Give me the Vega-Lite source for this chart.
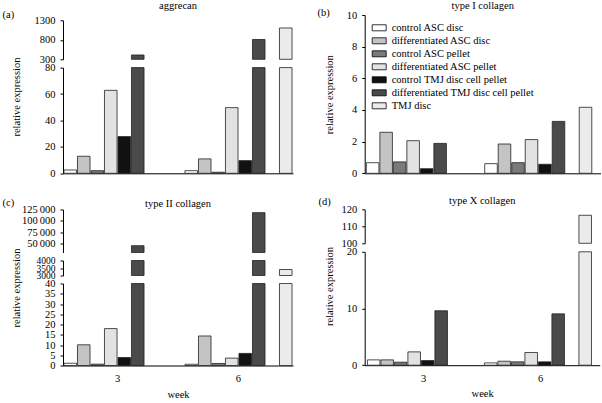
{
  "$schema": "https://vega.github.io/schema/vega-lite/v6.json",
  "padding": {"left": 2, "top": 0, "right": 0, "bottom": 0},
  "config": {
    "font": "Liberation Serif",
    "view": {"stroke": null},
    "axis": {"labelFont": "Liberation Serif", "labelFontSize": 10.5, "labelColor": "black", "titleFont": "Liberation Serif", "titleFontSize": 10.5, "titleFontWeight": "normal", "titleColor": "black", "domainColor": "black", "tickColor": "black", "grid": false, "labelOverlap": false, "labelFlush": false},
    "axisY": {"tickSize": 3, "labelPadding": 5, "format": "d"},
    "axisX": {"tickSize": 0, "ticks": false, "labelAngle": 0, "labelPadding": 8, "titlePadding": 5},
    "title": {"font": "Liberation Serif", "fontSize": 10.5, "fontWeight": "normal", "color": "black", "frame": "group", "anchor": "middle"},
    "bar": {"clip": true, "stroke": "#222", "strokeWidth": 0.8}
  },
  "datasets": {
    "d": [
      {"gene": "aggrecan", "week": "3", "series": "control ASC disc", "value": 2.5},
      {"gene": "aggrecan", "week": "3", "series": "differentiated ASC disc", "value": 12.9},
      {"gene": "aggrecan", "week": "3", "series": "control ASC pellet", "value": 2.0},
      {"gene": "aggrecan", "week": "3", "series": "differentiated ASC pellet", "value": 62.8},
      {"gene": "aggrecan", "week": "3", "series": "control TMJ disc cell pellet", "value": 27.8},
      {"gene": "aggrecan", "week": "3", "series": "differentiated TMJ disc cell pellet", "value": 411},
      {"gene": "aggrecan", "week": "6", "series": "control ASC disc", "value": 2.0},
      {"gene": "aggrecan", "week": "6", "series": "differentiated ASC disc", "value": 10.9},
      {"gene": "aggrecan", "week": "6", "series": "control ASC pellet", "value": 0.8},
      {"gene": "aggrecan", "week": "6", "series": "differentiated ASC pellet", "value": 49.7},
      {"gene": "aggrecan", "week": "6", "series": "control TMJ disc cell pellet", "value": 9.6},
      {"gene": "aggrecan", "week": "6", "series": "differentiated TMJ disc cell pellet", "value": 808},
      {"gene": "aggrecan", "week": "6", "series": "TMJ disc", "value": 1103},
      {"gene": "type I collagen", "week": "3", "series": "control ASC disc", "value": 0.67},
      {"gene": "type I collagen", "week": "3", "series": "differentiated ASC disc", "value": 2.59},
      {"gene": "type I collagen", "week": "3", "series": "control ASC pellet", "value": 0.72},
      {"gene": "type I collagen", "week": "3", "series": "differentiated ASC pellet", "value": 2.06},
      {"gene": "type I collagen", "week": "3", "series": "control TMJ disc cell pellet", "value": 0.29},
      {"gene": "type I collagen", "week": "3", "series": "differentiated TMJ disc cell pellet", "value": 1.89},
      {"gene": "type I collagen", "week": "6", "series": "control ASC disc", "value": 0.61},
      {"gene": "type I collagen", "week": "6", "series": "differentiated ASC disc", "value": 1.85},
      {"gene": "type I collagen", "week": "6", "series": "control ASC pellet", "value": 0.67},
      {"gene": "type I collagen", "week": "6", "series": "differentiated ASC pellet", "value": 2.13},
      {"gene": "type I collagen", "week": "6", "series": "control TMJ disc cell pellet", "value": 0.57},
      {"gene": "type I collagen", "week": "6", "series": "differentiated TMJ disc cell pellet", "value": 3.28},
      {"gene": "type I collagen", "week": "6", "series": "TMJ disc", "value": 4.17},
      {"gene": "type II collagen", "week": "3", "series": "control ASC disc", "value": 1.1},
      {"gene": "type II collagen", "week": "3", "series": "differentiated ASC disc", "value": 10.1},
      {"gene": "type II collagen", "week": "3", "series": "control ASC pellet", "value": 0.65},
      {"gene": "type II collagen", "week": "3", "series": "differentiated ASC pellet", "value": 18.0},
      {"gene": "type II collagen", "week": "3", "series": "control TMJ disc cell pellet", "value": 3.9},
      {"gene": "type II collagen", "week": "3", "series": "differentiated TMJ disc cell pellet", "value": 45000},
      {"gene": "type II collagen", "week": "6", "series": "control ASC disc", "value": 0.6},
      {"gene": "type II collagen", "week": "6", "series": "differentiated ASC disc", "value": 14.4},
      {"gene": "type II collagen", "week": "6", "series": "control ASC pellet", "value": 1.0},
      {"gene": "type II collagen", "week": "6", "series": "differentiated ASC pellet", "value": 3.6},
      {"gene": "type II collagen", "week": "6", "series": "control TMJ disc cell pellet", "value": 5.9},
      {"gene": "type II collagen", "week": "6", "series": "differentiated TMJ disc cell pellet", "value": 118000},
      {"gene": "type II collagen", "week": "6", "series": "TMJ disc", "value": 3400},
      {"gene": "type X collagen", "week": "3", "series": "control ASC disc", "value": 0.94},
      {"gene": "type X collagen", "week": "3", "series": "differentiated ASC disc", "value": 0.94},
      {"gene": "type X collagen", "week": "3", "series": "control ASC pellet", "value": 0.53},
      {"gene": "type X collagen", "week": "3", "series": "differentiated ASC pellet", "value": 2.35},
      {"gene": "type X collagen", "week": "3", "series": "control TMJ disc cell pellet", "value": 0.82},
      {"gene": "type X collagen", "week": "3", "series": "differentiated TMJ disc cell pellet", "value": 9.6},
      {"gene": "type X collagen", "week": "6", "series": "control ASC disc", "value": 0.41},
      {"gene": "type X collagen", "week": "6", "series": "differentiated ASC disc", "value": 0.7},
      {"gene": "type X collagen", "week": "6", "series": "control ASC pellet", "value": 0.59},
      {"gene": "type X collagen", "week": "6", "series": "differentiated ASC pellet", "value": 2.24},
      {"gene": "type X collagen", "week": "6", "series": "control TMJ disc cell pellet", "value": 0.59},
      {"gene": "type X collagen", "week": "6", "series": "differentiated TMJ disc cell pellet", "value": 9.06},
      {"gene": "type X collagen", "week": "6", "series": "TMJ disc", "value": 116.5}
    ]
  },
  "data": {"name": "d"},
  "spacing": 23.7,
  "align": "none",
  "hconcat": [
    {
      "spacing": 17.5,
      "align": "none",
      "vconcat": [
        {
          "spacing": 8.3,
          "bounds": "flush",
          "vconcat": [
            {
              "width": 230, "height": 1,
              "title": {"text": "aggrecan", "offset": 0},
              "transform": [{"filter": "datum.gene == 'none'"}],
              "mark": "bar",
              "encoding": {
                "x": {"field": "week", "type": "nominal", "axis": null},
                "y": {"field": "value", "type": "quantitative", "axis": null}
              }
            },
            {
              "width": 230, "height": 39,
              "transform": [{"filter": "datum.gene == 'aggrecan' && datum.value > 300"}],
              "mark": "bar",
              "encoding": {
                "x": {"field": "week", "type": "nominal", "scale": {"domain": ["3", "6"], "paddingInner": 0.115, "paddingOuter": 0.008}, "axis": null},
                "xOffset": {"field": "series", "type": "nominal", "scale": {"domain": ["control ASC disc", "differentiated ASC disc", "control ASC pellet", "differentiated ASC pellet", "control TMJ disc cell pellet", "differentiated TMJ disc cell pellet", "_", "TMJ disc"], "paddingInner": 0.07, "paddingOuter": 0}},
                "y": {"field": "value", "type": "quantitative", "scale": {"domain": [300, 1300], "zero": false, "nice": false, "clamp": true}, "axis": {"values": [300, 800, 1300], "title": "(a)", "titleAngle": 0, "titleAlign": "left", "titleBaseline": "middle", "titleX": -61, "titleY": -6}},
                "color": {"field": "series", "type": "nominal", "scale": {"domain": ["control ASC disc", "differentiated ASC disc", "control ASC pellet", "differentiated ASC pellet", "control TMJ disc cell pellet", "differentiated TMJ disc cell pellet", "TMJ disc"], "range": ["#ffffff", "#c4c4c4", "#7a7a7a", "#e2e2e2", "#111111", "#4a4a4a", "#ebebeb"]}, "legend": {"orient": "none", "legendX": 308.7, "legendY": 9.3, "title": null, "symbolType": "M-1,-0.43H1V0.43H-1Z", "symbolSize": 196, "symbolStrokeColor": "black", "symbolStrokeWidth": 0.8, "labelFontSize": 10.5, "labelFont": "Liberation Serif", "labelColor": "black", "labelLimit": 300, "labelOffset": 5, "rowPadding": -1, "padding": 0}}
              }
            },
            {
              "width": 230, "height": 105.7,
              "transform": [{"filter": "datum.gene == 'aggrecan'"}],
              "mark": "bar",
              "encoding": {
                "x": {"field": "week", "type": "nominal", "scale": {"domain": ["3", "6"], "paddingInner": 0.115, "paddingOuter": 0.008}, "axis": {"title": null, "labels": false}},
                "xOffset": {"field": "series", "type": "nominal", "scale": {"domain": ["control ASC disc", "differentiated ASC disc", "control ASC pellet", "differentiated ASC pellet", "control TMJ disc cell pellet", "differentiated TMJ disc cell pellet", "_", "TMJ disc"], "paddingInner": 0.07, "paddingOuter": 0}},
                "y": {"field": "value", "type": "quantitative", "scale": {"domain": [0, 80], "nice": false, "clamp": true}, "axis": {"values": [0, 20, 40, 60, 80], "title": "relative expression", "titleX": -42, "titleY": 29, "titleBaseline": "bottom"}},
                "color": {"field": "series", "type": "nominal", "scale": {"domain": ["control ASC disc", "differentiated ASC disc", "control ASC pellet", "differentiated ASC pellet", "control TMJ disc cell pellet", "differentiated TMJ disc cell pellet", "TMJ disc"], "range": ["#ffffff", "#c4c4c4", "#7a7a7a", "#e2e2e2", "#111111", "#4a4a4a", "#ebebeb"]}, "legend": {"orient": "none", "legendX": 308.7, "legendY": 9.3, "title": null, "symbolType": "M-1,-0.43H1V0.43H-1Z", "symbolSize": 196, "symbolStrokeColor": "black", "symbolStrokeWidth": 0.8, "labelFontSize": 10.5, "labelFont": "Liberation Serif", "labelColor": "black", "labelLimit": 300, "labelOffset": 5, "rowPadding": -1, "padding": 0}}
              }
            }
          ]
        },
        {
          "spacing": 8,
          "bounds": "flush",
          "vconcat": [
            {
              "width": 230, "height": 43,
              "title": {"text": "type II collagen", "offset": -12.3},
              "transform": [{"filter": "datum.gene == 'type II collagen' && datum.value > 30000"}],
              "mark": "bar",
              "encoding": {
                "x": {"field": "week", "type": "nominal", "scale": {"domain": ["3", "6"], "paddingInner": 0.115, "paddingOuter": 0.008}, "axis": null},
                "xOffset": {"field": "series", "type": "nominal", "scale": {"domain": ["control ASC disc", "differentiated ASC disc", "control ASC pellet", "differentiated ASC pellet", "control TMJ disc cell pellet", "differentiated TMJ disc cell pellet", "_", "TMJ disc"], "paddingInner": 0.07, "paddingOuter": 0}},
                "y": {"field": "value", "type": "quantitative", "scale": {"domain": [30000, 125000], "zero": false, "nice": false, "clamp": true}, "axis": {"values": [50000, 75000, 100000, 125000], "labelExpr": "replace(format(datum.value, ','), ',', '\u2009')", "title": "(c)", "titleAngle": 0, "titleAlign": "left", "titleBaseline": "middle", "titleX": -61, "titleY": -7.5}},
                "color": {"field": "series", "type": "nominal", "scale": {"domain": ["control ASC disc", "differentiated ASC disc", "control ASC pellet", "differentiated ASC pellet", "control TMJ disc cell pellet", "differentiated TMJ disc cell pellet", "TMJ disc"], "range": ["#ffffff", "#c4c4c4", "#7a7a7a", "#e2e2e2", "#111111", "#4a4a4a", "#ebebeb"]}, "legend": {"orient": "none", "legendX": 308.7, "legendY": 9.3, "title": null, "symbolType": "M-1,-0.43H1V0.43H-1Z", "symbolSize": 196, "symbolStrokeColor": "black", "symbolStrokeWidth": 0.8, "labelFontSize": 10.5, "labelFont": "Liberation Serif", "labelColor": "black", "labelLimit": 300, "labelOffset": 5, "rowPadding": -1, "padding": 0}}
              }
            },
            {
              "width": 230, "height": 15,
              "transform": [{"filter": "datum.gene == 'type II collagen' && datum.value > 3000"}],
              "mark": "bar",
              "encoding": {
                "x": {"field": "week", "type": "nominal", "scale": {"domain": ["3", "6"], "paddingInner": 0.115, "paddingOuter": 0.008}, "axis": null},
                "xOffset": {"field": "series", "type": "nominal", "scale": {"domain": ["control ASC disc", "differentiated ASC disc", "control ASC pellet", "differentiated ASC pellet", "control TMJ disc cell pellet", "differentiated TMJ disc cell pellet", "_", "TMJ disc"], "paddingInner": 0.07, "paddingOuter": 0}},
                "y": {"field": "value", "type": "quantitative", "scale": {"domain": [3000, 4000], "zero": false, "nice": false, "clamp": true}, "axis": {"values": [3000, 3500, 4000], "title": null, "labelFontSize": 9.5}},
                "color": {"field": "series", "type": "nominal", "scale": {"domain": ["control ASC disc", "differentiated ASC disc", "control ASC pellet", "differentiated ASC pellet", "control TMJ disc cell pellet", "differentiated TMJ disc cell pellet", "TMJ disc"], "range": ["#ffffff", "#c4c4c4", "#7a7a7a", "#e2e2e2", "#111111", "#4a4a4a", "#ebebeb"]}, "legend": {"orient": "none", "legendX": 308.7, "legendY": 9.3, "title": null, "symbolType": "M-1,-0.43H1V0.43H-1Z", "symbolSize": 196, "symbolStrokeColor": "black", "symbolStrokeWidth": 0.8, "labelFontSize": 10.5, "labelFont": "Liberation Serif", "labelColor": "black", "labelLimit": 300, "labelOffset": 5, "rowPadding": -1, "padding": 0}}
              }
            },
            {
              "width": 230, "height": 82,
              "transform": [{"filter": "datum.gene == 'type II collagen'"}],
              "mark": "bar",
              "encoding": {
                "x": {"field": "week", "type": "nominal", "scale": {"domain": ["3", "6"], "paddingInner": 0.115, "paddingOuter": 0.008}, "axis": {"title": "week"}},
                "xOffset": {"field": "series", "type": "nominal", "scale": {"domain": ["control ASC disc", "differentiated ASC disc", "control ASC pellet", "differentiated ASC pellet", "control TMJ disc cell pellet", "differentiated TMJ disc cell pellet", "_", "TMJ disc"], "paddingInner": 0.07, "paddingOuter": 0}},
                "y": {"field": "value", "type": "quantitative", "scale": {"domain": [0, 40], "nice": false, "clamp": true}, "axis": {"values": [0, 5, 10, 15, 20, 25, 30, 35, 40], "title": "relative expression", "titleX": -42, "titleY": 4, "titleBaseline": "bottom"}},
                "color": {"field": "series", "type": "nominal", "scale": {"domain": ["control ASC disc", "differentiated ASC disc", "control ASC pellet", "differentiated ASC pellet", "control TMJ disc cell pellet", "differentiated TMJ disc cell pellet", "TMJ disc"], "range": ["#ffffff", "#c4c4c4", "#7a7a7a", "#e2e2e2", "#111111", "#4a4a4a", "#ebebeb"]}, "legend": {"orient": "none", "legendX": 308.7, "legendY": 9.3, "title": null, "symbolType": "M-1,-0.43H1V0.43H-1Z", "symbolSize": 196, "symbolStrokeColor": "black", "symbolStrokeWidth": 0.8, "labelFontSize": 10.5, "labelFont": "Liberation Serif", "labelColor": "black", "labelLimit": 300, "labelOffset": 5, "rowPadding": -1, "padding": 0}}
              }
            }
          ]
        }
      ]
    },
    {
      "spacing": 16.3,
      "align": "none",
      "vconcat": [
        {
          "spacing": 3,
          "bounds": "flush",
          "vconcat": [
            {
              "width": 236, "height": 1,
              "title": {"text": "type I collagen", "offset": 0},
              "transform": [{"filter": "datum.gene == 'none'"}],
              "mark": "bar",
              "encoding": {
                "x": {"field": "week", "type": "nominal", "axis": null},
                "y": {"field": "value", "type": "quantitative", "axis": null}
              }
            },
            {
              "width": 236, "height": 158.3,
              "transform": [{"filter": "datum.gene == 'type I collagen'"}],
              "encoding": {
                "x": {"field": "week", "type": "nominal", "scale": {"domain": ["3", "6"], "paddingInner": 0.034, "paddingOuter": 0.014}, "axis": {"title": null, "labels": false}},
                "xOffset": {"field": "series", "type": "nominal", "scale": {"domain": ["control ASC disc", "differentiated ASC disc", "control ASC pellet", "differentiated ASC pellet", "control TMJ disc cell pellet", "differentiated TMJ disc cell pellet", "_", "TMJ disc"], "paddingInner": 0.07, "paddingOuter": 0}},
                "color": {"field": "series", "type": "nominal", "scale": {"domain": ["control ASC disc", "differentiated ASC disc", "control ASC pellet", "differentiated ASC pellet", "control TMJ disc cell pellet", "differentiated TMJ disc cell pellet", "TMJ disc"], "range": ["#ffffff", "#c4c4c4", "#7a7a7a", "#e2e2e2", "#111111", "#4a4a4a", "#ebebeb"]}, "legend": {"orient": "none", "legendX": 308.7, "legendY": 9.3, "title": null, "symbolType": "M-1,-0.43H1V0.43H-1Z", "symbolSize": 196, "symbolStrokeColor": "black", "symbolStrokeWidth": 0.8, "labelFontSize": 10.5, "labelFont": "Liberation Serif", "labelColor": "black", "labelLimit": 300, "labelOffset": 5, "rowPadding": -1, "padding": 0}}
              },
              "layer": [
                {
                  "mark": "bar",
                  "encoding": {
                    "y": {"field": "value", "type": "quantitative", "scale": {"domain": [0, 10], "nice": false}, "axis": {"values": [0, 2, 4, 6, 8, 10], "title": "relative expression", "titleX": -30, "titleBaseline": "bottom"}}
                  }
                },
                {
                  "mark": {"type": "bar", "opacity": 0, "strokeOpacity": 0},
                  "encoding": {
                    "y": {"field": "value", "type": "quantitative", "axis": {"orient": "left", "title": "(b)", "labels": false, "ticks": false, "domain": false, "titleAngle": 0, "titleAlign": "left", "titleBaseline": "middle", "titleX": -47.6, "titleY": -2.4}}
                  }
                }
              ],
              "resolve": {"axis": {"y": "independent"}}
            }
          ]
        },
        {
          "spacing": 8.5,
          "bounds": "flush",
          "vconcat": [
            {
              "width": 235, "height": 34,
              "title": {"text": "type X collagen", "offset": -9.5},
              "transform": [{"filter": "datum.gene == 'type X collagen' && datum.value > 100"}],
              "mark": "bar",
              "encoding": {
                "x": {"field": "week", "type": "nominal", "scale": {"domain": ["3", "6"], "paddingInner": 0.0375, "paddingOuter": 0.023}, "axis": null},
                "xOffset": {"field": "series", "type": "nominal", "scale": {"domain": ["control ASC disc", "differentiated ASC disc", "control ASC pellet", "differentiated ASC pellet", "control TMJ disc cell pellet", "differentiated TMJ disc cell pellet", "_", "TMJ disc"], "paddingInner": 0.07, "paddingOuter": 0}},
                "y": {"field": "value", "type": "quantitative", "scale": {"domain": [100, 120], "zero": false, "nice": false, "clamp": true}, "axis": {"values": [100, 110, 120], "title": "(d)", "titleAngle": 0, "titleAlign": "left", "titleBaseline": "middle", "titleX": -46.6, "titleY": -7.7}},
                "color": {"field": "series", "type": "nominal", "scale": {"domain": ["control ASC disc", "differentiated ASC disc", "control ASC pellet", "differentiated ASC pellet", "control TMJ disc cell pellet", "differentiated TMJ disc cell pellet", "TMJ disc"], "range": ["#ffffff", "#c4c4c4", "#7a7a7a", "#e2e2e2", "#111111", "#4a4a4a", "#ebebeb"]}, "legend": {"orient": "none", "legendX": 308.7, "legendY": 9.3, "title": null, "symbolType": "M-1,-0.43H1V0.43H-1Z", "symbolSize": 196, "symbolStrokeColor": "black", "symbolStrokeWidth": 0.8, "labelFontSize": 10.5, "labelFont": "Liberation Serif", "labelColor": "black", "labelLimit": 300, "labelOffset": 5, "rowPadding": -1, "padding": 0}}
              }
            },
            {
              "width": 235, "height": 113.4,
              "transform": [{"filter": "datum.gene == 'type X collagen'"}],
              "mark": "bar",
              "encoding": {
                "x": {"field": "week", "type": "nominal", "scale": {"domain": ["3", "6"], "paddingInner": 0.0375, "paddingOuter": 0.023}, "axis": {"title": "week"}},
                "xOffset": {"field": "series", "type": "nominal", "scale": {"domain": ["control ASC disc", "differentiated ASC disc", "control ASC pellet", "differentiated ASC pellet", "control TMJ disc cell pellet", "differentiated TMJ disc cell pellet", "_", "TMJ disc"], "paddingInner": 0.07, "paddingOuter": 0}},
                "y": {"field": "value", "type": "quantitative", "scale": {"domain": [0, 20], "nice": false, "clamp": true}, "axis": {"values": [0, 10, 20], "title": "relative expression", "titleX": -30.6, "titleY": 34.2, "titleBaseline": "bottom"}},
                "color": {"field": "series", "type": "nominal", "scale": {"domain": ["control ASC disc", "differentiated ASC disc", "control ASC pellet", "differentiated ASC pellet", "control TMJ disc cell pellet", "differentiated TMJ disc cell pellet", "TMJ disc"], "range": ["#ffffff", "#c4c4c4", "#7a7a7a", "#e2e2e2", "#111111", "#4a4a4a", "#ebebeb"]}, "legend": {"orient": "none", "legendX": 308.7, "legendY": 9.3, "title": null, "symbolType": "M-1,-0.43H1V0.43H-1Z", "symbolSize": 196, "symbolStrokeColor": "black", "symbolStrokeWidth": 0.8, "labelFontSize": 10.5, "labelFont": "Liberation Serif", "labelColor": "black", "labelLimit": 300, "labelOffset": 5, "rowPadding": -1, "padding": 0}}
              }
            }
          ]
        }
      ]
    }
  ]
}
